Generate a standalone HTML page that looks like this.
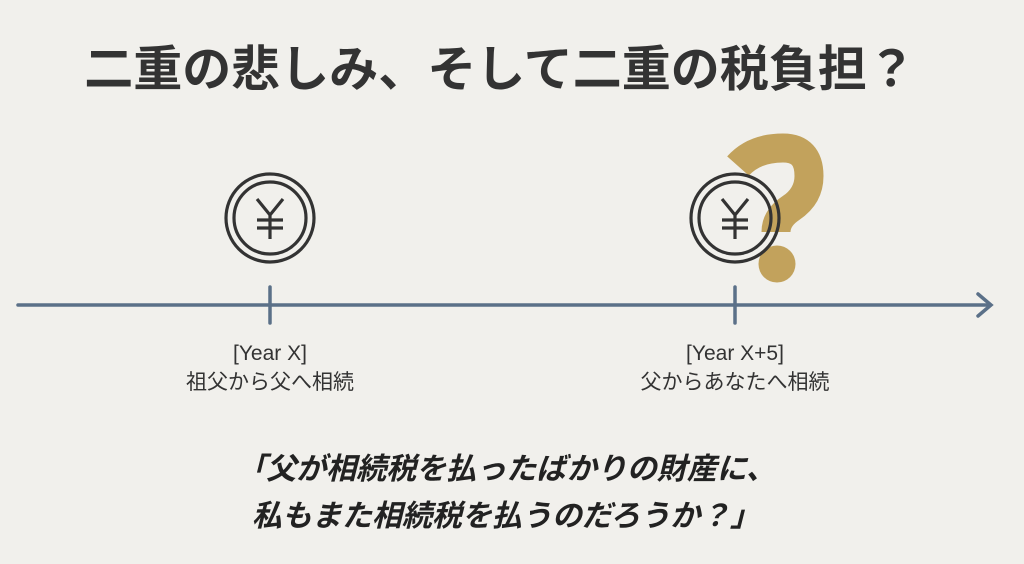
<!DOCTYPE html>
<html><head><meta charset="utf-8"><style>
html,body{margin:0;padding:0;background:#f1f0ec;}
body{width:1024px;height:564px;position:relative;overflow:hidden;font-family:"Liberation Sans","Noto Sans CJK JP",sans-serif;}
.t{position:absolute;left:0;width:1024px;text-align:center;color:#333;}
</style></head><body>
<svg width="1024" height="564" style="position:absolute;left:0;top:0">
 <g fill="none" stroke="#5b7088" stroke-width="3.5" stroke-linecap="round">
  <line x1="18" y1="305" x2="990" y2="305"/>
  <polyline points="978,294 991,305 978,316"/>
  <line x1="270" y1="287" x2="270" y2="323"/>
  <line x1="735" y1="287" x2="735" y2="323"/>
 </g>
 <path d="M738 166 Q754 148 783 148 Q809 148 809 176 Q809 196 791 208 Q776 218 776 232" fill="none" stroke="#c2a25c" stroke-width="29"/>
 <circle cx="777" cy="264" r="18.5" fill="#c2a25c"/>
 <g fill="none" stroke="#333" stroke-width="3.2">
  <circle cx="270" cy="218" r="44"/><circle cx="270" cy="218" r="36"/>
  <path d="M257 199 L270 215 L283 199 M257 220 H283 M257 228 H283 M270 215 V239"/>
  <circle cx="735" cy="218" r="44"/><circle cx="735" cy="218" r="36"/>
  <path d="M722 199 L735 215 L748 199 M722 220 H748 M722 228 H748 M735 215 V239"/>
 </g>
</svg>
<div class="t" style="top:30px;font-size:49px;font-weight:bold;left:-12px">二重の悲しみ、そして二重の税負担？</div>
<div class="t" style="top:339px;font-size:21px;line-height:29px;width:300px;left:120px">[Year X]<br>祖父から父へ相続</div>
<div class="t" style="top:339px;font-size:21px;line-height:29px;width:300px;left:585px">[Year X+5]<br>父からあなたへ相続</div>
<div class="t" style="top:446px;font-size:30px;font-weight:bold;line-height:47px;color:#222;font-style:italic;left:-6px">「父が相続税を払ったばかりの財産に、<br>私もまた相続税を払うのだろうか？」</div>
</body></html>
